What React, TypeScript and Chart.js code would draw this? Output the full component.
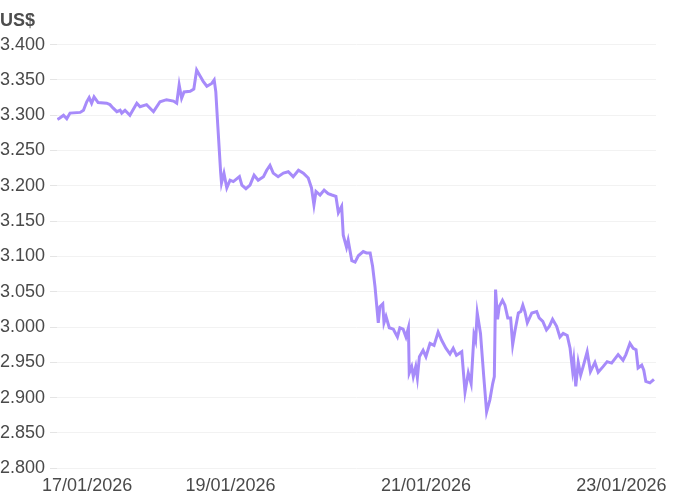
import { useEffect, useRef } from 'react';
import { Chart, registerables } from 'chart.js';

Chart.register(...registerables);

// Hours elapsed since 17/01/2026 00:00
const hours = [
  5.5, 6.1, 7.0, 7.8, 8.6, 11.1, 11.9, 12.7, 13.3, 13.9, 14.5, 15.5, 17.6, 18.4, 19.2, 20.1, 20.9, 21.3,
  22.1, 23.3, 25.0, 25.8, 27.4, 29.1, 30.7, 32.3, 34.0, 34.8, 35.4, 36.0, 36.6, 38.1, 39.0, 39.7, 40.5,
  41.3, 42.2, 43.4, 44.0, 44.4, 44.9, 45.6, 45.8, 46.4, 47.1, 47.9, 48.7, 50.2, 50.8, 51.8, 52.8, 53.8,
  54.8, 56.1, 56.9, 57.7, 58.5, 59.7, 61.0, 62.2, 63.4, 64.7, 65.9, 67.1, 67.9, 68.5, 69.0, 70.0, 71.0,
  72.0, 72.9, 73.9, 74.5, 75.3, 75.7, 76.5, 76.9, 77.8, 78.6, 79.4, 80.6, 81.4, 82.3, 82.9, 83.5, 84.3,
  84.7, 85.4, 85.7, 86.2, 87.0, 88.0, 89.0, 89.6, 90.4, 91.1, 91.7, 91.9, 92.5, 92.9, 93.5, 93.9, 94.4,
  95.3, 96.0, 97.0, 98.0, 99.0, 99.9, 100.9, 101.9, 102.7, 103.5, 104.8, 105.6, 106.4, 107.1, 107.8,
  108.2, 108.6, 109.4, 110.2, 110.9, 111.7, 112.4, 112.8, 113.1, 113.6, 114.0, 114.8, 115.4, 116.1,
  116.8, 117.3, 117.9, 118.7, 119.3, 119.8, 120.3, 120.9, 122.0, 123.2, 123.8, 124.7, 125.6, 126.3,
  127.1, 128.1, 128.9, 129.7, 130.7, 131.4, 132.0, 132.3, 132.8, 133.4, 134.0, 134.6, 135.6, 136.4,
  137.5, 138.3, 139.5, 140.5, 141.6, 143.2, 144.4, 145.1, 146.1, 146.9, 147.6, 148.1, 149.0, 149.5,
  150.0, 151.0, 152.0,
];

// Price in US$
const prices = [
  3.294, 3.296, 3.3, 3.295, 3.303, 3.304, 3.307, 3.319, 3.325, 3.317, 3.326, 3.318, 3.317, 3.315, 3.31,
  3.305, 3.307, 3.303, 3.307, 3.3, 3.317, 3.312, 3.315, 3.305, 3.319, 3.322, 3.32, 3.317, 3.343, 3.324,
  3.333, 3.334, 3.337, 3.364, 3.356, 3.348, 3.341, 3.345, 3.35, 3.333, 3.284, 3.218, 3.204, 3.218, 3.197,
  3.208, 3.206, 3.213, 3.201, 3.196, 3.201, 3.215, 3.208, 3.213, 3.222, 3.229, 3.218, 3.213, 3.218, 3.22,
  3.213, 3.222, 3.218, 3.211, 3.197, 3.173, 3.192, 3.187, 3.194, 3.189, 3.187, 3.185, 3.162, 3.171, 3.13,
  3.113, 3.123, 3.094, 3.092, 3.101, 3.107, 3.105, 3.105, 3.086, 3.057, 3.006, 3.029, 3.033, 3.006, 3.015,
  2.999, 2.997, 2.986, 2.999, 2.997, 2.986, 2.999, 2.935, 2.944, 2.93, 2.944, 2.928, 2.958, 2.967, 2.958,
  2.977, 2.974, 2.993, 2.981, 2.97, 2.962, 2.97, 2.96, 2.965, 2.908, 2.935, 2.92, 2.989, 2.981, 3.02,
  2.991, 2.93, 2.88, 2.897, 2.92, 2.93, 3.053, 3.011, 3.029, 3.038, 3.031, 3.013, 3.013, 2.975, 2.996,
  3.02, 3.022, 3.031, 3.022, 3.006, 3.02, 3.022, 3.013, 3.008, 2.996, 3.001, 3.011, 3.001, 2.986, 2.991,
  2.988, 2.97, 2.939, 2.953, 2.916, 2.95, 2.932, 2.944, 2.965, 2.937, 2.95, 2.936, 2.944, 2.951, 2.949,
  2.961, 2.953, 2.961, 2.977, 2.97, 2.968, 2.942, 2.946, 2.939, 2.923, 2.921, 2.926,
];

const xTickHours = [12.8, 48, 96, 144];
const xTickLabels = ['17/01/2026', '19/01/2026', '21/01/2026', '23/01/2026'];
const xMin = 5.4;
const xMax = 152.5;
const yMin = 2.8;
const yMax = 3.4;
const yStep = 0.05;
const yTitle = 'US$';

const FONT = "'Liberation Sans', Arial, Helvetica, sans-serif";
const TEXT = '#4a4a4a';

export default function App() {
  const ref = useRef<HTMLCanvasElement | null>(null);

  useEffect(() => {
    document.body.style.margin = '0';
    if (!ref.current) return;
    const chart = new Chart(ref.current, {
      type: 'line',
      data: {
        datasets: [
          {
            data: hours.map((h, i) => ({ x: h, y: prices[i] })),
            borderColor: '#a78bfa',
            borderWidth: 3,
            pointRadius: 0,
            tension: 0,
            fill: false,
          },
        ],
      },
      options: {
        responsive: false,
        animation: false,
        events: [],
        layout: { padding: { left: 0, right: 44, top: 0, bottom: 0 } },
        plugins: {
          legend: { display: false },
          tooltip: { enabled: false },
          title: {
            display: true,
            text: yTitle,
            align: 'start',
            color: '#4d4d4d',
            font: { family: FONT, size: 18, weight: 'bold' },
            padding: { top: 10, bottom: 13 },
          },
        },
        scales: {
          x: {
            type: 'linear',
            min: xMin,
            max: xMax,
            grid: { display: false, drawTicks: false },
            border: { display: false },
            afterBuildTicks: (scale: any) => {
              scale.ticks = xTickHours.map((v) => ({ value: v }));
            },
            afterFit: (scale: any) => {
              scale.height = 31.7;
            },
            ticks: {
              autoSkip: false,
              maxRotation: 0,
              padding: 7,
              color: TEXT,
              font: { family: FONT, size: 18 },
              callback: (value: any) => {
                const i = xTickHours.indexOf(Number(value));
                return i >= 0 ? xTickLabels[i] : '';
              },
            },
          },
          y: {
            min: yMin,
            max: yMax,
            grid: { color: '#f2f2f2', tickColor: '#e4e4e4', tickLength: 7, lineWidth: 1 },
            border: { display: false },
            afterFit: (scale: any) => {
              scale.width = 57;
            },
            ticks: {
              stepSize: yStep,
              padding: 5,
              color: TEXT,
              font: { family: FONT, size: 18 },
              callback: (value: any) => Number(value).toFixed(3),
            },
          },
        },
      },
    });
    return () => chart.destroy();
  }, []);

  return (
    <div style={{ width: 700, height: 500 }}>
      <canvas ref={ref} width={700} height={500} />
    </div>
  );
}
